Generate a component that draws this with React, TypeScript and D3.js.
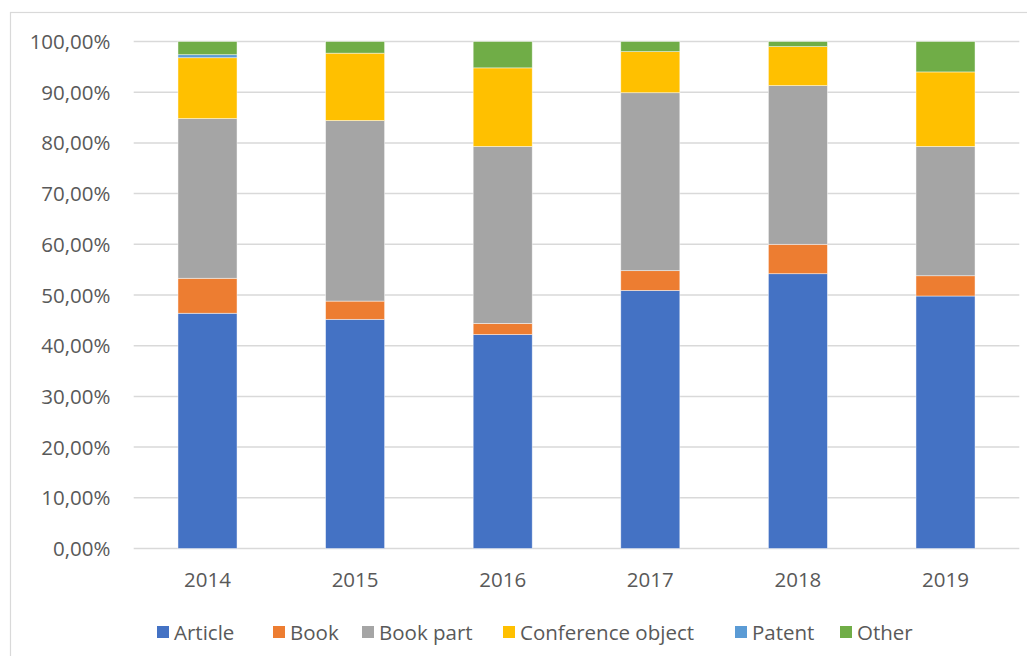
import React, { useEffect, useRef } from "react";
import * as d3 from "d3";

const years = ["2014", "2015", "2016", "2017", "2018", "2019"];
const seriesNames = ["Article", "Book", "Book part", "Conference object", "Patent", "Other"];
const colors = ["#4472c4", "#ed7d31", "#a5a5a5", "#ffc000", "#5b9bd5", "#70ad47"];

const article = [46.4, 45.2, 42.2, 50.9, 54.2, 49.8];
const book = [6.9, 3.6, 2.2, 3.9, 5.8, 4.0];
const bookPart = [31.5, 35.6, 34.9, 35.1, 31.3, 25.5];
const conference = [12.0, 13.3, 15.5, 8.1, 7.7, 14.7];
const patent = [0.6, 0, 0, 0, 0, 0];
const other = [2.6, 2.3, 5.2, 2.0, 1.0, 6.0];

const yTicks = [0, 10, 20, 30, 40, 50, 60, 70, 80, 90, 100];

const W = 1035;
const H = 664;
const FONT = 20.5;

const App = () => {
  const ref = useRef<SVGSVGElement>(null);

  useEffect(() => {
    const svg = d3.select(ref.current);
    svg.selectAll("*").remove();

    const values = [article, book, bookPart, conference, patent, other];
    const rows = years.map((y, i) => {
      const r: any = { year: y };
      seriesNames.forEach((s, j) => (r[s] = values[j][i]));
      return r;
    });

    const x = d3.scaleBand().domain(years).range([133.7, 1019.3]).paddingInner(0.6).paddingOuter(0.3);
    const y = d3.scaleLinear().domain([0, 100]).range([548.5, 41.5]);

    // frame
    svg
      .append("rect")
      .attr("x", 10.5)
      .attr("y", 12.5)
      .attr("width", W + 20)
      .attr("height", H + 20)
      .attr("fill", "#fff")
      .attr("stroke", "#d9d9d9")
      .attr("stroke-width", 1.2);

    // gridlines
    svg
      .append("g")
      .selectAll("line")
      .data(yTicks)
      .join("line")
      .attr("x1", 133.7)
      .attr("x2", 1019.3)
      .attr("y1", (d) => y(d))
      .attr("y2", (d) => y(d))
      .attr("stroke", "#d9d9d9")
      .attr("stroke-width", 1.5);

    const fmt = (d: number) => d.toFixed(2).replace(".", ",") + "%";
    svg
      .append("g")
      .selectAll("text")
      .data(yTicks)
      .join("text")
      .attr("x", 110.5)
      .attr("y", (d) => y(d) + 7.5)
      .attr("text-anchor", "end")
      .attr("font-family", "Open Sans")
      .attr("font-size", FONT)
      .attr("fill", "#595959")
      .text(fmt);

    const stack = d3.stack<any>().keys(seriesNames)(rows);
    svg
      .append("g")
      .selectAll("g")
      .data(stack)
      .join("g")
      .attr("fill", (_d, i) => colors[i])
      .selectAll("rect")
      .data((d) => d.filter((p) => p[1] - p[0] > 0))
      .join("rect")
      .attr("x", (d) => x(d.data.year)!)
      .attr("width", x.bandwidth())
      .attr("y", (d) => y(d[1]))
      .attr("height", (d) => y(d[0]) - y(d[1]))
      .attr("stroke", "#fff")
      .attr("stroke-width", 0.75)
      .attr("stroke-opacity", 0.6);

    svg
      .append("g")
      .selectAll("text")
      .data(years)
      .join("text")
      .attr("x", (d) => x(d)! + x.bandwidth() / 2)
      .attr("y", 587)
      .attr("text-anchor", "middle")
      .attr("font-family", "Open Sans")
      .attr("font-size", FONT)
      .attr("fill", "#595959")
      .text((d) => d);

    const legendX = [157, 273, 362, 503, 735, 840];
    const lg = svg
      .append("g")
      .selectAll("g")
      .data(seriesNames)
      .join("g")
      .attr("transform", (_d, i) => `translate(${legendX[i]},626)`);
    lg.append("rect").attr("width", 12).attr("height", 12).attr("fill", (_d, i) => colors[i]);
    lg.append("text")
      .attr("x", 17)
      .attr("y", 13.5)
      .attr("font-family", "Open Sans")
      .attr("font-size", FONT)
      .attr("fill", "#595959")
      .text((d) => d);
  }, []);

  return <svg ref={ref} width={W} height={H} style={{ display: "block", margin: "-8px" }} />;
};

export default App;
